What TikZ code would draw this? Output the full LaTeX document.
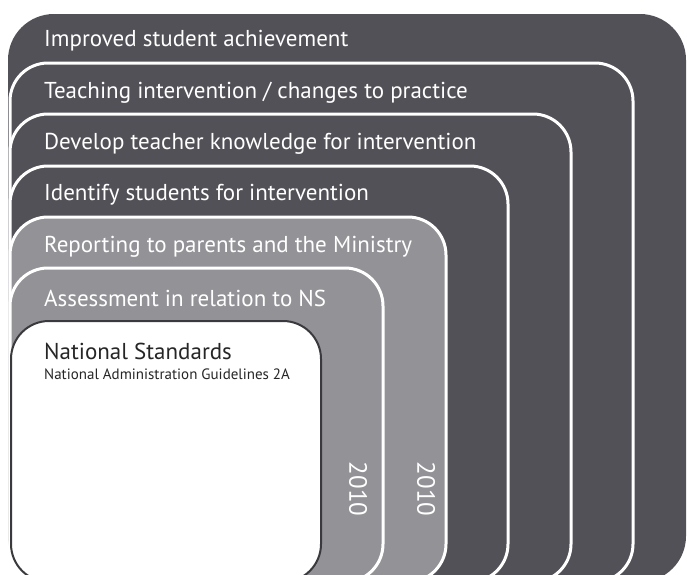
\documentclass[tikz,border=0pt]{standalone}
\usepackage{fontspec}
\setmainfont{PT Sans}
\usetikzlibrary{positioning}
\definecolor{darkband}{HTML}{515157}
\definecolor{lightband}{HTML}{939297}
\definecolor{rimgrey}{HTML}{3A3A3E}

\begin{document}
\begin{tikzpicture}[x=1pt,y=-1pt,
	band/.style={draw=white,line width=3pt,rounded corners=38pt},
	lbl/.style={anchor=west,text=white,inner sep=0pt,font=\fontsize{23}{23}\selectfont},
	yearlbl/.style={rotate=-90,text=white,inner sep=0pt,font=\fontsize{25}{25}\selectfont}]
	\useasboundingbox (0,0) rectangle (687,574);
	\clip (0,0) rectangle (687,574);
	% nested bands, outermost first
	\fill[darkband,rounded corners=46pt] (8,14) rectangle (686,582);
	\filldraw[band,fill=darkband] (10,63) rectangle (633,582);
	\filldraw[band,fill=darkband] (10,114) rectangle (571,582);
	\filldraw[band,fill=darkband] (10,166) rectangle (508,582);
	\filldraw[band,fill=lightband] (10,217) rectangle (446,582);
	\filldraw[band,fill=lightband] (10,268) rectangle (383,582);
	\filldraw[rounded corners=38pt,fill=white,draw=rimgrey,line width=2pt] (11,321) rectangle (321,582);
	% labels
	\node[lbl] (achieve) at (44,41) {Improved student achievement};
	\node[lbl] (teach) at (44,93) {Teaching intervention / changes to practice};
	\node[lbl] (develop) at (44,144) {Develop teacher knowledge for intervention};
	\node[lbl] (identify) at (44,195) {Identify students for intervention};
	\node[lbl] (report) at (44,247) {Reporting to parents and the Ministry};
	\node[lbl] (assess) at (44,298) {Assessment in relation to NS};
	\node[lbl,text=black!85] (natstd) at (44,351) {National Standards};
	\node[anchor=west,inner sep=0pt,text=black!85,font=\fontsize{15}{15}\selectfont] (nag) at (44,374) {National Administration Guidelines 2A};
	\node[yearlbl] (yearA) at (358,489) {2010};
	\node[yearlbl] (yearB) at (426,489) {2010};
\end{tikzpicture}
\end{document}
